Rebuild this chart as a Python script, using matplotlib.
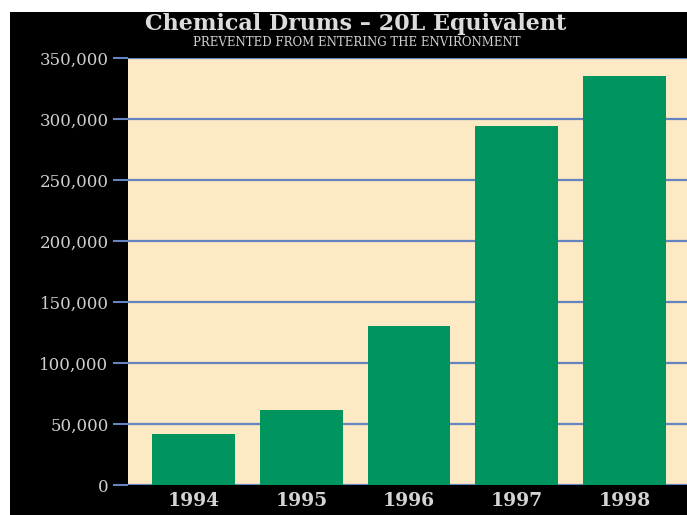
import matplotlib
matplotlib.use('Agg')
import matplotlib.pyplot as plt
from matplotlib.patches import Rectangle

years = ['1994', '1995', '1996', '1997', '1998']
drums = [42000, 61500, 130000, 294000, 335000]
yticks = [0, 50000, 100000, 150000, 200000, 250000, 300000, 350000]
ylabels = ['0', '50,000', '100,000', '150,000', '200,000', '250,000', '300,000', '350,000']

plt.rcParams['font.family'] = ['DejaVu Serif']

fig = plt.figure(figsize=(6.87, 5.15), dpi=100)
fig.patch.set_facecolor('white')
# black backdrop, leaving a thin white strip top and left
fig.patches.append(Rectangle((10 / 687, 0), 1, 1 - 12 / 515, transform=fig.transFigure,
                             facecolor='black', edgecolor='none', zorder=-5))

ax = fig.add_axes([128 / 687, 1 - 485 / 515, 1 - 128 / 687, (485 - 58) / 515])
ax.set_facecolor('#fde9c3')

x = list(range(len(years)))
ax.bar(x, drums, width=0.77, color='#00955f', zorder=3)

ax.set_xlim(-0.608, 4.58)
ax.set_ylim(0, 350000)
ax.set_yticks(yticks)
ax.set_yticklabels(ylabels)
ax.set_xticks(x)
ax.set_xticklabels(years)

for v in yticks:
    ax.axhline(v, color='#6484c0', lw=1.6, zorder=2)

for s in ax.spines.values():
    s.set_visible(False)

ax.tick_params(axis='y', length=11, width=1.5, color='#6484c0', pad=3,
               labelsize=12, labelcolor='#cfcfcf')
ax.tick_params(axis='x', length=0, pad=5, labelsize=13.5, labelcolor='#d4d4d4')
for lab in ax.get_xticklabels():
    lab.set_fontweight('bold')

fig.text(0.518, 1 - 24 / 515, 'Chemical Drums \u2013 20L Equivalent', ha='center', va='center',
         color='#dcdcdc', fontsize=16, fontweight='bold')
fig.text(0.52, 1 - 43 / 515, 'PREVENTED FROM ENTERING THE ENVIRONMENT', ha='center', va='center',
         color='#d0d0d0', fontsize=8.5)

fig.savefig('out.png', dpi=100, facecolor=fig.get_facecolor())
